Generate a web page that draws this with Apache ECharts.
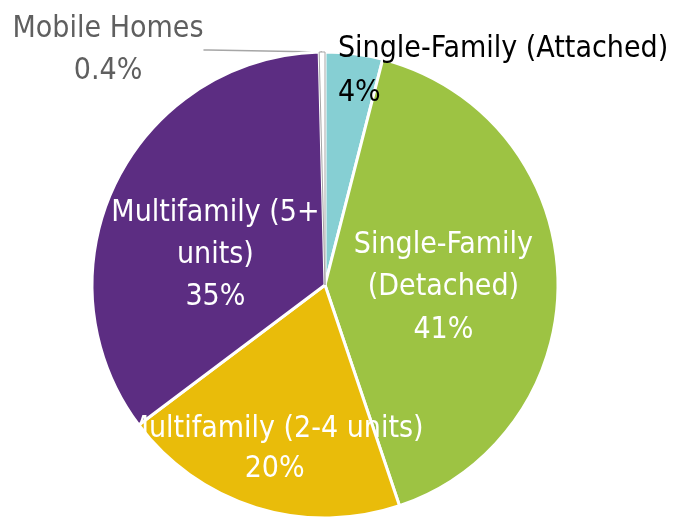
<!DOCTYPE html>
<html><head><meta charset="utf-8">
<script src="https://cdn.jsdelivr.net/npm/echarts@6/dist/echarts.min.js"></script>
<style>html,body{margin:0;padding:0;background:#fff}#c{width:675px;height:517px}</style>
</head><body><div id="c"></div>
<script>
const categories = ['Single-Family (Attached)', 'Single-Family (Detached)', 'Multifamily (2-4 units)', 'Multifamily (5+ units)', 'Mobile Homes'];
const labelTexts = ['Single-Family (Attached)\n4%', 'Single-Family\n(Detached)\n41%', 'Multifamily (2-4 units)\n20%', 'Multifamily (5+\nunits)\n35%', 'Mobile Homes\n0.4%'];
const values = [4, 41, 20, 35, 0.4];
const colors = ['#86CFD3', '#9DC343', '#E9BC0A', '#5C2D82', '#FFFFFF'];

const FONT = '"Liberation Sans Narrow", "DejaVu Sans Condensed", sans-serif';
const chart = echarts.init(document.getElementById('c'));
const labelCfg = [
  {position: 'inside', color: '#000', lineHeight: 44},
  {position: 'inside', color: '#fff', offset: [-1, 7], lineHeight: 42.5},
  {position: 'inside', color: '#fff', offset: [-15, 50], lineHeight: 40},
  {position: 'inside', color: '#fff', offset: [-2, 22]},
  {position: 'outside', color: '#5F5F5F'}
];
const data = values.map((v, i) => ({
  name: categories[i],
  value: v,
  itemStyle: i === 4 ? {color: colors[i], borderColor: '#A6A6A6', borderWidth: 1} : {color: colors[i]},
  label: Object.assign({formatter: labelTexts[i]}, labelCfg[i]),
  labelLine: i === 4 ? {show: true, length: 5, length2: 5, lineStyle: {color: '#A6A6A6', width: 1.5}} : {show: false}
}));
chart.setOption({
  animation: false,
  series: [{
    type: 'pie',
    center: [325, 285],
    radius: [0, 233],
    startAngle: 90,
    clockwise: true,
    avoidLabelOverlap: false,
    itemStyle: {borderColor: '#fff', borderWidth: 3},
    label: {show: true, fontFamily: FONT, fontSize: 30, lineHeight: 42},
    labelLayout: function (p) {
      const r = p.labelRect;
      if (p.dataIndex === 0) return {align: 'left', dx: -2, dy: -95};
      if (p.dataIndex === 4) return {
        x: r.x + r.width - 204,
        y: r.y + r.height / 2 + 3,
        align: 'center',
        verticalAlign: 'middle'
      };
      return {};
    },
    data: data
  }]
});
</script></body></html>
